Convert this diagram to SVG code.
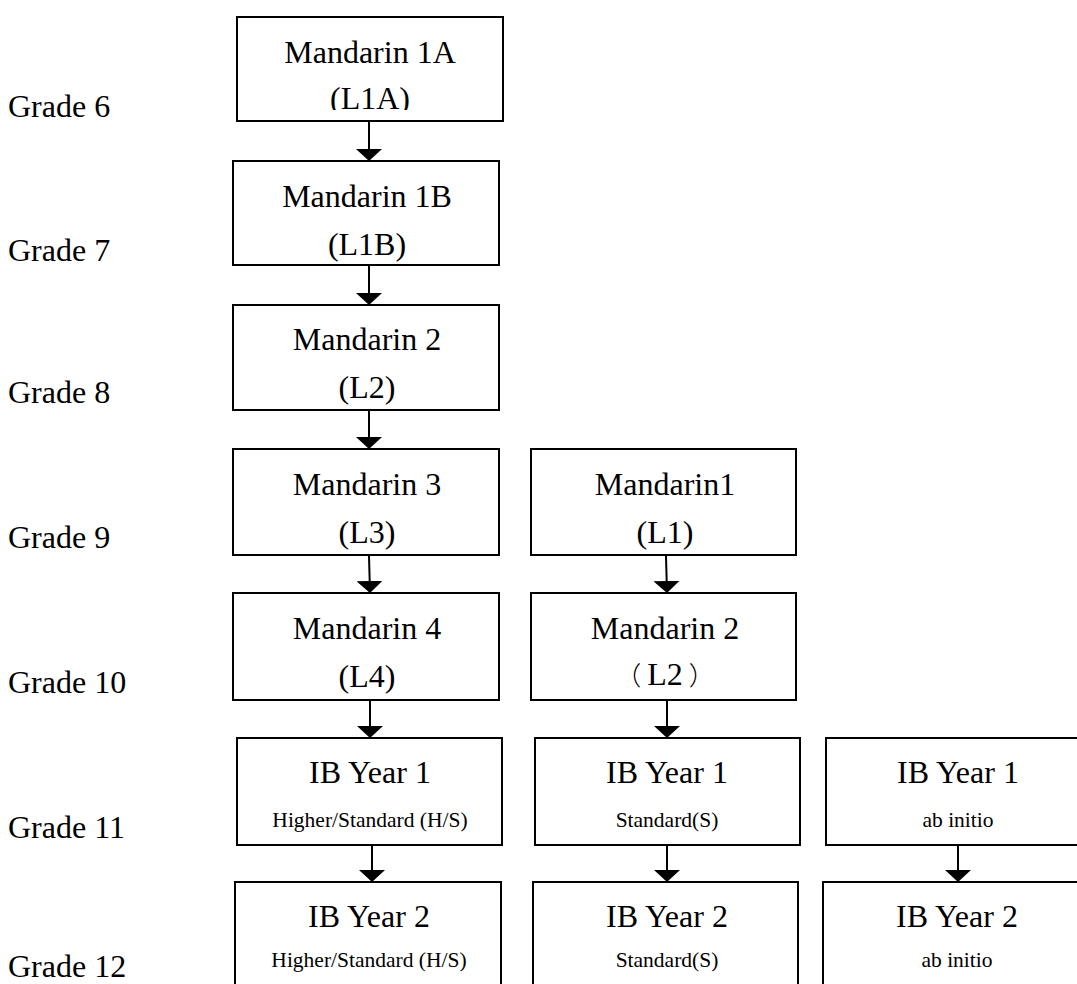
<svg xmlns="http://www.w3.org/2000/svg" width="1077" height="984" viewBox="0 0 1077 984">
<style>
  .box { fill: #ffffff; stroke: #000000; stroke-width: 2; }
  .t { font-family: "Liberation Serif", "Times New Roman", serif; font-size: 32px; fill: #000000; text-anchor: middle; }
  .s { font-family: "Liberation Serif", "Times New Roman", serif; font-size: 21.5px; fill: #000000; text-anchor: middle; }
  .cjk { font-family: "Noto Sans CJK SC", "Liberation Serif", sans-serif; font-weight: 300; }
  .g { font-family: "Liberation Serif", "Times New Roman", serif; font-size: 32px; fill: #000000; }
  .c { fill: none; stroke: #000000; stroke-width: 2; }
</style>
<defs>
  <marker id="ah" markerUnits="userSpaceOnUse" markerWidth="12" markerHeight="26" viewBox="0 0 12 26" refX="12" refY="13" orient="auto">
    <path d="M0,0 L12,13 L0,26 Z" fill="#000000"/>
  </marker>
  <clipPath id="clip1a"><rect x="237" y="17" width="266" height="93"/></clipPath>
</defs>
<rect width="1077" height="984" fill="#ffffff"/>

<g id="grades">
  <text class="g" x="8" y="117">Grade 6</text>
  <text class="g" x="8" y="261">Grade 7</text>
  <text class="g" x="8" y="403">Grade 8</text>
  <text class="g" x="8" y="548">Grade 9</text>
  <text class="g" x="8" y="693">Grade 10</text>
  <text class="g" x="8" y="838">Grade 11</text>
  <text class="g" x="8" y="977">Grade 12</text>
</g>

<g id="connectors">
  <line class="c" x1="369" y1="122" x2="369" y2="161" marker-end="url(#ah)"/>
  <line class="c" x1="369" y1="266" x2="369" y2="305" marker-end="url(#ah)"/>
  <line class="c" x1="369" y1="411" x2="369" y2="449" marker-end="url(#ah)"/>
  <line class="c" x1="369" y1="556" x2="370" y2="593" marker-end="url(#ah)"/>
  <line class="c" x1="370" y1="701" x2="370" y2="738" marker-end="url(#ah)"/>
  <line class="c" x1="372" y1="846" x2="372" y2="882" marker-end="url(#ah)"/>
  <line class="c" x1="666" y1="556" x2="667" y2="593" marker-end="url(#ah)"/>
  <line class="c" x1="667" y1="701" x2="667" y2="738" marker-end="url(#ah)"/>
  <line class="c" x1="667" y1="846" x2="667" y2="882" marker-end="url(#ah)"/>
  <line class="c" x1="958" y1="846" x2="958" y2="882" marker-end="url(#ah)"/>
</g>

<g id="m1a">
  <rect class="box" x="237" y="17" width="266" height="104"/>
  <text class="t" x="370" y="63">Mandarin 1A</text>
  <text class="t" x="370" y="109" clip-path="url(#clip1a)">(L1A)</text>
</g>
<g id="m1b">
  <rect class="box" x="233" y="161" width="266" height="104"/>
  <text class="t" x="367" y="207">Mandarin 1B</text>
  <text class="t" x="367" y="255">(L1B)</text>
</g>
<g id="m2">
  <rect class="box" x="233" y="305" width="266" height="105"/>
  <text class="t" x="367" y="350">Mandarin 2</text>
  <text class="t" x="367" y="398">(L2)</text>
</g>
<g id="m3">
  <rect class="box" x="233" y="449" width="266" height="106"/>
  <text class="t" x="367" y="495">Mandarin 3</text>
  <text class="t" x="367" y="543">(L3)</text>
</g>
<g id="m4">
  <rect class="box" x="233" y="593" width="266" height="107"/>
  <text class="t" x="367" y="639">Mandarin 4</text>
  <text class="t" x="367" y="687">(L4)</text>
</g>
<g id="m1">
  <rect class="box" x="531" y="449" width="265" height="106"/>
  <text class="t" x="665" y="495">Mandarin1</text>
  <text class="t" x="665" y="543">(L1)</text>
</g>
<g id="m2b">
  <rect class="box" x="531" y="593" width="265" height="107"/>
  <text class="t" x="665" y="639">Mandarin 2</text>
  <text class="t" x="665" y="685"><tspan class="cjk" font-size="26">（</tspan><tspan dx="6">L2</tspan><tspan class="cjk" font-size="26" dx="6">）</tspan></text>
</g>
<g id="ib1hs">
  <rect class="box" x="237" y="738" width="265" height="107"/>
  <text class="t" x="370" y="783">IB Year 1</text>
  <text class="s" x="370" y="827">Higher/Standard (H/S)</text>
</g>
<g id="ib1s">
  <rect class="box" x="535" y="738" width="265" height="107"/>
  <text class="t" x="667" y="783">IB Year 1</text>
  <text class="s" x="667" y="827">Standard(S)</text>
</g>
<g id="ib1ab">
  <rect class="box" x="826" y="738" width="265" height="107"/>
  <text class="t" x="958" y="783">IB Year 1</text>
  <text class="s" x="958" y="827">ab initio</text>
</g>
<g id="ib2hs">
  <rect class="box" x="235" y="882" width="266" height="120"/>
  <text class="t" x="369" y="927">IB Year 2</text>
  <text class="s" x="369" y="967">Higher/Standard (H/S)</text>
</g>
<g id="ib2s">
  <rect class="box" x="533" y="882" width="265" height="120"/>
  <text class="t" x="667" y="927">IB Year 2</text>
  <text class="s" x="667" y="967">Standard(S)</text>
</g>
<g id="ib2ab">
  <rect class="box" x="823" y="882" width="265" height="120"/>
  <text class="t" x="957" y="927">IB Year 2</text>
  <text class="s" x="957" y="967">ab initio</text>
</g>
</svg>
